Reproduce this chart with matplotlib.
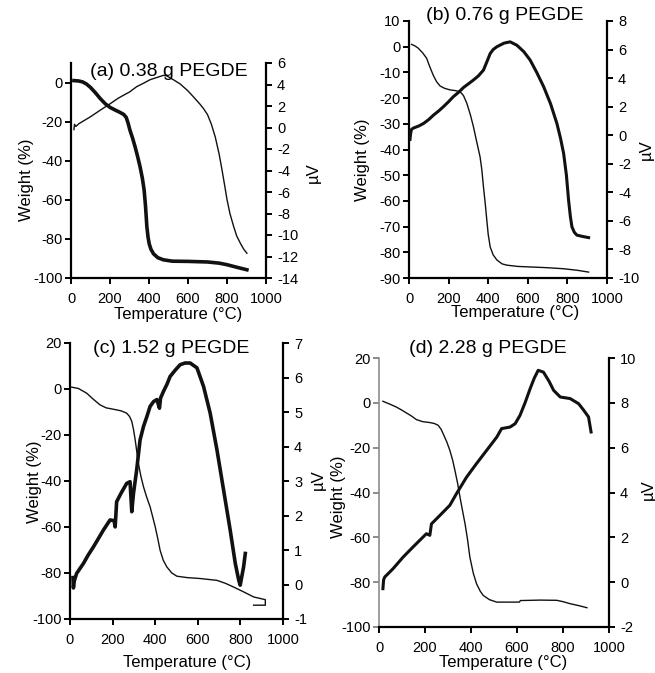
import numpy as np
import matplotlib
matplotlib.use("Agg")
from matplotlib import pyplot as plt

plt.rcParams['font.family'] = ['Liberation Sans', 'DejaVu Sans']
plt.rcParams['axes.unicode_minus'] = False

# (a) 0.38 g PEGDE
a_wt_T = [15, 40, 60, 80, 100, 125, 150, 175, 200, 225, 250, 270, 283, 292, 303, 316, 329, 342, 354, 366, 375, 382,
          389, 395, 401, 410, 423, 445, 474, 520, 600, 700, 760, 800, 850, 902]
a_wt = [1.0, 0.8, 0.3, -0.8, -2.5, -5.2, -8.2, -10.8, -12.7, -14, -15.2, -16.3, -17.8, -20.5, -24.6, -28.5, -33, -38,
        -43, -49, -55, -63, -73.7, -79, -82.5, -85.3, -87.6, -89.6, -90.7, -91.4, -91.5, -91.8, -92.4, -93.2, -94.5, -95.8]
a_dsc_T = [15, 18, 25, 40, 63, 100, 149, 200, 240, 269, 300, 337, 370, 406, 440, 474, 491, 520, 560, 600, 628, 660,
           680, 700, 720, 740, 760, 774, 790, 800, 815, 834, 850, 868, 885, 902]
a_dsc = [-0.2, 0.3, 0.1, 0.35, 0.6, 1.0, 1.6, 2.2, 2.7, 3.0, 3.3, 3.8, 4.1, 4.45, 4.65, 4.85, 4.8, 4.5, 4.05, 3.4,
         2.85, 2.2, 1.75, 1.2, 0.3, -0.9, -2.5, -3.9, -5.6, -6.7, -8.0, -9.2, -10.1, -10.75, -11.3, -11.7]

# (b) 0.76 g PEGDE
b_wt_T = [13, 30, 47, 70, 89, 105, 123, 140, 157, 180, 207, 235, 258, 275, 292, 310, 325, 342, 359, 368, 376, 385,
          393, 400, 410, 425, 444, 470, 494, 550, 612, 700, 781, 850, 907]
b_wt = [0.9, 0.3, -0.6, -2.5, -4.5, -7.8, -11.2, -13.7, -15.3, -16.2, -16.8, -17.1, -17.5, -19, -22, -26.5, -31, -37,
        -42.9, -48, -54.5, -61, -67.5, -73, -77.9, -81, -83, -84.5, -85, -85.5, -85.7, -86.0, -86.4, -87, -87.7]
b_dsc_T = [5, 8, 12, 22, 50, 73, 100, 123, 150, 174, 200, 224, 250, 275, 300, 325, 350, 376, 395, 410, 425, 444, 480,
           511, 545, 580, 612, 645, 680, 715, 747, 765, 781, 795, 806, 815, 823, 835, 848, 880, 907]
b_dsc = [-0.3, 0.1, 0.4, 0.5, 0.65, 0.82, 1.1, 1.4, 1.7, 2.0, 2.35, 2.7, 3.0, 3.34, 3.6, 3.86, 4.15, 4.56, 5.2, 5.72,
         6.0, 6.2, 6.45, 6.54, 6.3, 5.85, 5.26, 4.4, 3.4, 2.2, 0.82, -0.2, -1.28, -2.8, -4.56, -5.7, -6.42, -6.8, -7.0,
         -7.1, -7.17]

# (c) 1.52 g PEGDE
c_wt_T = [8, 40, 78, 110, 141, 170, 204, 240, 266, 280, 290, 298, 306, 314, 321, 333, 345, 360, 376, 388, 400, 412,
          423, 438, 455, 478, 502, 550, 611, 690, 730, 768, 815, 862, 917, 917, 862]
c_wt = [0.8, 0.2, -1.8, -4.5, -6.9, -8.2, -8.8, -9.5, -10.5, -12, -14.1, -17.5, -22.1, -27.5, -32.3, -38, -42.5, -47,
        -51.2, -55.5, -59.9, -65, -70.1, -74.5, -77.4, -80, -81.4, -82, -82.4, -83.2, -84.5, -86.1, -88.2, -90.4, -91.6,
        -94, -94]
c_dsc_T = [14, 16, 20, 31, 63, 85, 110, 135, 157, 188, 207, 212, 219, 240, 266, 282, 290, 298, 313, 329, 345, 360, 376,
           392, 408, 420, 425, 439, 455, 470, 495, 517, 540, 564, 596, 627, 658, 690, 721, 752, 776, 792, 799, 815, 823]
c_dsc = [0.2, -0.1, 0.1, 0.32, 0.61, 0.85, 1.09, 1.35, 1.58, 1.87, 1.85, 1.67, 2.4, 2.65, 2.93, 2.98, 2.11, 2.64, 3.32,
         4.19, 4.58, 4.85, 5.16, 5.3, 5.36, 5.11, 5.4, 5.6, 5.8, 6.03, 6.22, 6.37, 6.42, 6.42, 6.28, 5.74, 4.97, 3.9,
         2.74, 1.58, 0.61, 0.13, -0.02, 0.51, 0.9]

# (d) 2.28 g PEGDE
d_wt_T = [17, 45, 76, 100, 119, 140, 163, 190, 221, 240, 257, 270, 279, 295, 308, 320, 330, 342, 352, 363, 374, 385,
          395, 410, 424, 440, 453, 480, 512, 610, 615, 700, 773, 800, 831, 870, 904]
d_wt = [0.7, -0.5, -1.9, -3.3, -4.5, -5.8, -7.5, -8.4, -8.8, -9.2, -10.0, -11.8, -13.8, -17.5, -21.2, -25.5, -30.1,
        -36, -42, -48, -53.9, -61, -68.8, -76, -80.7, -84, -85.9, -87.8, -88.9, -88.9, -88.2, -88.0, -88.1, -88.7, -89.6,
        -90.5, -91.4]
d_dsc_T = [17, 20, 25, 61, 105, 148, 206, 221, 228, 265, 308, 337, 381, 424, 468, 512, 533, 570, 592, 613, 635, 657,
           675, 692, 715, 740, 759, 788, 831, 868, 890, 911, 922]
d_dsc = [-0.29, 0.1, 0.23, 0.6, 1.12, 1.57, 2.16, 2.09, 2.6, 2.98, 3.43, 3.95, 4.69, 5.29, 5.88, 6.47, 6.85, 6.92, 7.07,
         7.44, 8.0, 8.63, 9.1, 9.45, 9.37, 8.95, 8.56, 8.26, 8.19, 7.96, 7.67, 7.37, 6.7]

fig = plt.figure(figsize=(6.55, 6.73), dpi=100)
W, H = 655, 673


def px_axes(l, r, t, b):
    return [l / W, 1 - b / H, (r - l) / W, (b - t) / H]


def fxy(x, y):
    return x / W, 1 - y / H


def panel(box, wt_T, wt, dsc_T, dsc, wlim, wticks, dlim, dticks, wlw, dlw, title, tpos,
          xlab, wlab, ulab, gray_left=False):
    ax = fig.add_axes(px_axes(*box))
    ax2 = ax.twinx()
    ax.plot(wt_T, wt, color='#111111', lw=wlw, solid_joinstyle='round')
    ax2.plot(dsc_T, dsc, color='#111111', lw=dlw, solid_joinstyle='round')
    ax.set_xlim(0, 1000)
    ax.set_xticks(np.arange(0, 1001, 200))
    ax.set_ylim(*wlim)
    ax.set_yticks(wticks)
    ax2.set_ylim(*dlim)
    ax2.set_yticks(dticks)
    for a in (ax, ax2):
        a.spines['top'].set_visible(False)
        for s in ('left', 'right', 'bottom'):
            a.spines[s].set_linewidth(1.6)
        a.tick_params(length=4, width=1.4, labelsize=10.5, pad=2)
    ax.tick_params(axis='x', pad=6)
    ax2.tick_params(axis='y', pad=4)
    ax.spines['right'].set_visible(False)
    ax2.spines['left'].set_visible(False)
    ax2.spines['bottom'].set_visible(False)
    if gray_left:
        ax.spines['left'].set_color('#8c8c8c')
        ax.spines['left'].set_linewidth(1.2)
        ax.tick_params(axis='y', color='#8c8c8c')
    ax.set_xlabel('Temperature (°C)', fontsize=12)
    ax.set_ylabel('Weight (%)', fontsize=12)
    ax2.set_ylabel('µV', fontsize=12)
    ax.xaxis.set_label_coords(*fxy(*xlab), transform=fig.transFigure)
    ax.yaxis.set_label_coords(*fxy(*wlab), transform=fig.transFigure)
    ax2.yaxis.set_label_coords(*fxy(*ulab), transform=fig.transFigure)
    ax.xaxis.label.set_va('center')
    ax.yaxis.label.set_va('center')
    ax2.yaxis.label.set_va('center')
    fig.text(*fxy(*tpos), title, fontsize=14, ha='center', va='center')
    return ax, ax2


panel((71, 266, 63, 278), a_wt_T, a_wt, a_dsc_T, a_dsc, (-100, 10), np.arange(-100, 1, 20),
      (-14, 6), np.arange(-14, 7, 2), 2.6, 1.0, '(a) 0.38 g PEGDE', (169, 72),
      (178, 314), (27, 180), (313, 173))
panel((409, 607, 21, 278), b_wt_T, b_wt, b_dsc_T, b_dsc, (-90, 10), np.arange(-90, 11, 10),
      (-10, 8), np.arange(-10, 9, 2), 1.0, 2.2, '(b) 0.76 g PEGDE', (505, 15),
      (515, 313), (362, 160), (646, 150))
panel((70, 283, 343, 619), c_wt_T, c_wt, c_dsc_T, c_dsc, (-100, 20), np.arange(-100, 21, 20),
      (-1, 7), np.arange(-1, 8, 1), 1.0, 2.6, '(c) 1.52 g PEGDE', (171, 348),
      (187, 663), (35, 482), (318, 480))
panel((379, 609, 358, 627), d_wt_T, d_wt, d_dsc_T, d_dsc, (-100, 20), np.arange(-100, 21, 20),
      (-2, 10), np.arange(-2, 11, 2), 1.0, 2.2, '(d) 2.28 g PEGDE', (488, 348),
      (503, 663), (339, 497), (648, 490), gray_left=True)

fig.savefig('out.png', dpi=100)
